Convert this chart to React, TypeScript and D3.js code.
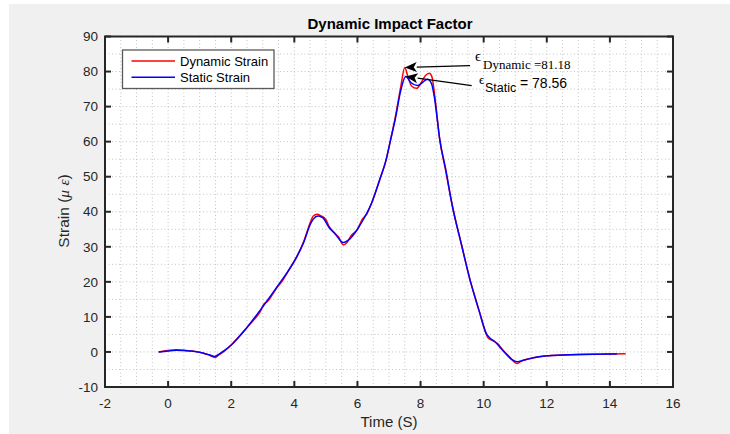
import React from "react";
import * as d3 from "d3";

const dynT = [-0.3,0.0,0.25,0.5,0.8,1.1,1.3,1.48,1.6,1.8,2.0,2.25,2.5,2.7,2.9,3.05,3.15,3.3,3.45,3.6,3.8,4.07,4.3,4.5,4.6,4.72,4.85,5.0,5.1,5.25,5.4,5.55,5.65,5.8,6.0,6.15,6.3,6.45,6.7,6.9,7.05,7.2,7.37,7.5,7.6,7.72,7.88,8.0,8.15,8.28,8.36,8.45,8.61,8.8,9.0,9.3,9.57,9.75,9.88,10.05,10.15,10.3,10.45,10.6,10.8,10.95,11.05,11.2,11.5,12.0,12.5,13.0,13.5,14.0,14.5];
const dynV = [0,0.4,0.6,0.5,0.2,-0.3,-0.9,-1.6,-0.9,0.4,2.0,4.4,7.0,9.0,11.2,13.8,14.4,16.3,18.4,20.0,23.0,27.1,31.6,36.8,38.8,39.3,38.8,37.8,35.8,34.2,32.8,30.6,31.0,33.2,35.0,37.8,39.4,42.5,49,54.5,60.5,67,75.5,81.18,78.5,75.8,75.2,76.5,78.8,79.5,78.5,73,60.5,51.5,42,30.5,20.5,15.0,11,5.8,3.9,3.2,2.3,0.6,-1.2,-2.7,-3.3,-2.6,-1.8,-1.1,-0.9,-0.75,-0.65,-0.6,-0.5];

const staT = [-0.3,0.0,0.25,0.5,0.8,1.1,1.3,1.48,1.6,1.8,2.0,2.5,3.0,3.5,4.07,4.3,4.5,4.6,4.75,4.9,5.1,5.3,5.55,5.7,6.0,6.2,6.45,6.7,6.9,7.05,7.2,7.37,7.53,7.7,7.9,8.05,8.22,8.35,8.45,8.61,8.8,9.0,9.3,9.57,9.88,10.1,10.2,10.36,10.6,10.9,11.05,11.2,11.47,12.0,12.5,13.0,13.5,14.0,14.22];
const staV = [0,0.3,0.5,0.4,0.2,-0.3,-0.8,-1.3,-0.7,0.5,2.0,7.0,12.9,19.2,27.0,31.3,36.3,37.9,38.8,38.3,35.5,33.6,31.2,31.8,35.0,38.0,42.5,49,54.5,60.5,66.5,74.5,78.56,76.8,76.0,76.8,77.8,76.5,72,60.5,52,42,30.5,20.5,11,5.0,4.0,2.9,0.5,-2.2,-2.8,-2.5,-1.9,-1.1,-0.9,-0.75,-0.65,-0.6,-0.6];

const xTicks = [-2, 0, 2, 4, 6, 8, 10, 12, 14, 16];
const yTicks = [-10, 0, 10, 20, 30, 40, 50, 60, 70, 80, 90];
const seriesNames = ["Dynamic Strain", "Static Strain"];
const peakDyn = { t: 7.5, v: 81.18 };
const peakSta = { t: 7.53, v: 78.56 };
const tailDyn = { t: 9.57, v: 81.7 };
const tailSta = { t: 9.62, v: 76.0 };

const W = 730, H = 434;
const L = 105, R = 673, T = 36.5, B = 387;

function Arrow({ x1, y1, x2, y2 }: { x1: number; y1: number; x2: number; y2: number }) {
  const ang = Math.atan2(y2 - y1, x2 - x1);
  const len = 12, hw = 5;
  const bx = x2 - len * Math.cos(ang), by = y2 - len * Math.sin(ang);
  const nx = -Math.sin(ang), ny = Math.cos(ang);
  const pts = `${x2},${y2} ${bx + nx * hw},${by + ny * hw} ${bx + 0.25 * len * Math.cos(ang)},${by + 0.25 * len * Math.sin(ang)} ${bx - nx * hw},${by - ny * hw}`;
  return (
    <g>
      <line x1={x1} y1={y1} x2={bx} y2={by} stroke="#000" strokeWidth={1.3} />
      <polygon points={pts} fill="#000" />
    </g>
  );
}

export default function App() {
  const x = d3.scaleLinear().domain([-2, 16]).range([L, R]);
  const y = d3.scaleLinear().domain([-10, 90]).range([B, T]);
  const dynData = dynT.map((t, i) => [t, dynV[i]] as [number, number]);
  const staData = staT.map((t, i) => [t, staV[i]] as [number, number]);
  const line = d3.line<[number, number]>().x(d => x(d[0])).y(d => y(d[1])).curve(d3.curveMonotoneX);
  const xGrid = d3.range(-2, 16.001, 0.5);
  const yGrid = d3.range(-10, 90.001, 5);
  const font = "'Liberation Sans', Arial, sans-serif";
  const serif = "'Liberation Serif', 'Times New Roman', serif";
  const tc = "#262626";

  return (
    <svg width={W} height={H} style={{ position: "absolute", left: 0, top: 0, display: "block" }}>
      <rect x={0} y={0} width={W} height={H} fill="#fff" />
      <rect x={9} y={4} width={W - 9} height={H - 4} fill="#f0f0f0" />
      <rect x={L} y={T} width={R - L} height={B - T} fill="#fff" />
      {xGrid.map(g => (
        <line key={"xg" + g} x1={x(g)} x2={x(g)} y1={T} y2={B} stroke="#c4c4c4" strokeWidth={1} strokeDasharray="1,2.5" />
      ))}
      {yGrid.map(g => (
        <line key={"yg" + g} x1={L} x2={R} y1={y(g)} y2={y(g)} stroke="#c4c4c4" strokeWidth={1} strokeDasharray="1,2.5" />
      ))}
      <path d={line(dynData) || ""} fill="none" stroke="#ff0000" strokeWidth={1.5} />
      <path d={line(staData) || ""} fill="none" stroke="#0000ff" strokeWidth={1.5} />
      <rect x={L} y={T} width={R - L} height={B - T} fill="none" stroke={tc} strokeWidth={2} />
      {xTicks.map(t => (
        <g key={"xt" + t}>
          <line x1={x(t)} x2={x(t)} y1={B} y2={B - 6} stroke={tc} strokeWidth={2} />
          <line x1={x(t)} x2={x(t)} y1={T} y2={T + 6} stroke={tc} strokeWidth={2} />
          <text x={x(t)} y={B + 21} textAnchor="middle" fontFamily={font} fontSize={13.5} fill={tc}>{t}</text>
        </g>
      ))}
      {yTicks.map(t => (
        <g key={"yt" + t}>
          <line x1={L} x2={L + 6} y1={y(t)} y2={y(t)} stroke={tc} strokeWidth={2} />
          <line x1={R} x2={R - 6} y1={y(t)} y2={y(t)} stroke={tc} strokeWidth={2} />
          <text x={L - 7} y={y(t) + 4.7} textAnchor="end" fontFamily={font} fontSize={13.5} fill={tc}>{t}</text>
        </g>
      ))}
      <text x={390} y={29} textAnchor="middle" fontFamily={font} fontWeight="bold" fontSize={15} fill="#000">Dynamic Impact Factor</text>
      <text x={389} y={427} textAnchor="middle" fontFamily={font} fontSize={15} fill={tc}>Time (S)</text>
      <text transform="translate(69,211) rotate(-90)" textAnchor="middle" fontFamily={font} fontSize={15.5} fill={tc}>
        Strain (<tspan fontFamily={serif} fontStyle="italic">μ</tspan> <tspan fontFamily={serif} fontStyle="italic">ε</tspan>)
      </text>
      <rect x={122.5} y={50} width={151.5} height={38.5} fill="#fff" stroke="#5a5a5a" strokeWidth={1.3} />
      <line x1={131.5} x2={175} y1={61} y2={61} stroke="#ff0000" strokeWidth={1.5} />
      <line x1={131.5} x2={175} y1={77.3} y2={77.3} stroke="#0000ff" strokeWidth={1.5} />
      <text x={180} y={66} fontFamily={font} fontSize={13} fill="#000">{seriesNames[0]}</text>
      <text x={180} y={82.3} fontFamily={font} fontSize={13} fill="#000">{seriesNames[1]}</text>
      <Arrow x1={x(tailDyn.t)} y1={y(tailDyn.v)} x2={x(peakDyn.t)} y2={y(peakDyn.v)} />
      <Arrow x1={x(tailSta.t)} y1={y(tailSta.v)} x2={x(peakSta.t)} y2={y(peakSta.v)} />
      <text x={475} y={61} fontFamily={serif} fontSize={15} fill="#000">ϵ</text>
      <text x={483} y={69} fontFamily={serif} fontSize={13} fill="#000">{"Dynamic =" + peakDyn.v.toFixed(2)}</text>
      <text x={479} y={84} fontFamily={serif} fontSize={13} fill="#000">ϵ</text>
      <text x={485} y={92} fontFamily={font} fontSize={12.5} fill="#000">Static</text>
      <text x={520} y={87.5} fontFamily={font} fontSize={14} fill="#000">{"= " + peakSta.v.toFixed(2)}</text>
    </svg>
  );
}
